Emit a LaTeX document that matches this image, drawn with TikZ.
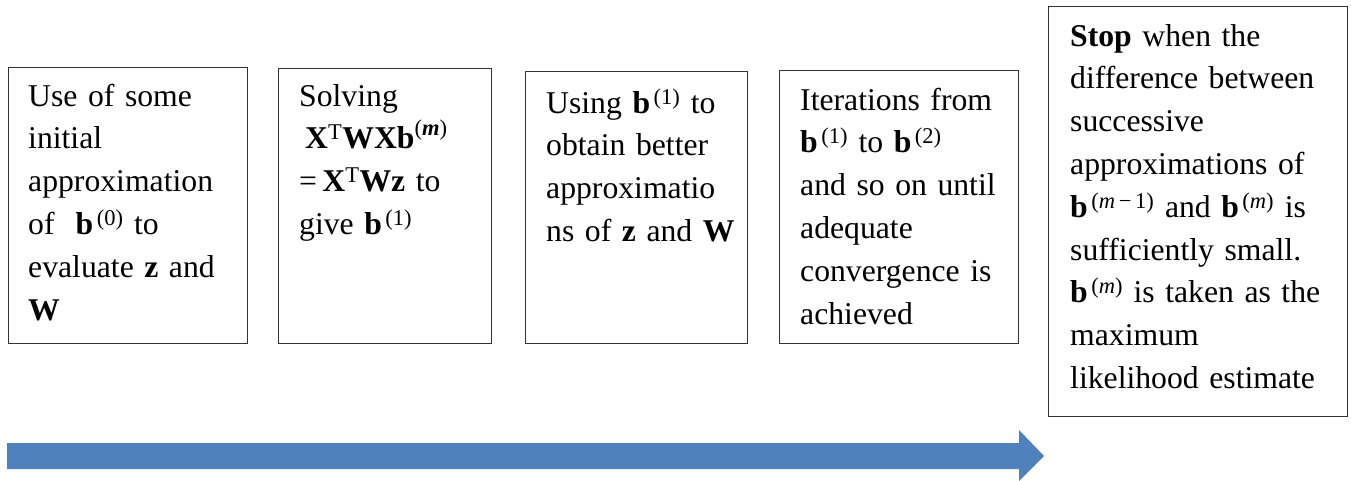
\documentclass[tikz,border=0pt]{standalone}
\usepackage{amsmath}
\usepackage{fontspec}
\setmainfont{Liberation Serif}
\DeclareMathSizes{31.7}{31.7}{22.5}{17}
\definecolor{arrowblue}{HTML}{4F81BD}
\definecolor{boxline}{HTML}{333333}
\tikzset{
  stepbox/.style={draw=boxline, line width=1.2pt, anchor=north west, inner sep=0pt, fill=white},
  txt/.style={anchor=north west, inner sep=0pt, text width=300pt, align=left,
    font=\fontsize{31.7}{42.8}\selectfont},
}
\newcommand{\firstline}{\rule{0pt}{36pt}}
\newcommand{\bb}[1]{\mathbf{b}^{\,\text{(#1)}}}
\newcommand{\mm}{\textit{m}}
\begin{document}
\begin{tikzpicture}[x=1pt,y=-1pt]
\useasboundingbox (0,0) rectangle (1351,481);
% boxes
\node[stepbox, minimum width=239pt, minimum height=276pt] (b1) at (8,67) {};
\node[stepbox, minimum width=213pt, minimum height=275pt] (b2) at (278,68) {};
\node[stepbox, minimum width=222pt, minimum height=272pt] (b3) at (525,71) {};
\node[stepbox, minimum width=239pt, minimum height=273pt] (b4) at (779,70) {};
\node[stepbox, minimum width=299pt, minimum height=410pt] (b5) at (1048,6) {};
% texts (top = first baseline - 36)
\node[txt] (t1) at (28,70) {\firstline Use of some\\ initial\\ approximation\\ of\ \ $\bb{0}$ to\\ evaluate $\mathbf{z}$ and\\ $\mathbf{W}$};
\node[txt] (t2) at (299,70) {\firstline Solving\\ \hspace*{6pt}$\mathbf{X}^{\text{T}}\mathbf{WXb}^{\text{(\textbf{\textit{m}})}}$\\ =\,$\mathbf{X}^{\text{T}}\mathbf{Wz}$ to\\ give $\bb{1}$};
\node[txt] (t3) at (546,77) {\firstline Using $\bb{1}$ to\\ obtain better\\ approximatio\\ ns of $\mathbf{z}$ and $\mathbf{W}$};
\node[txt] (t4) at (800,74) {\firstline Iterations from\\ $\bb{1}$ to $\bb{2}$\\ and so on until\\ adequate\\ convergence is\\ achieved};
\node[txt] (t5) at (1070,10) {\firstline \textbf{Stop} when the\\ difference between\\ successive\\ approximations of\\ $\bb{\mm\,−\,1}$ and $\bb{\mm}$ is\\ sufficiently small.\\ $\bb{\mm}$ is taken as the\\ maximum\\ likelihood estimate};
% timeline arrow
\fill[arrowblue] (7,443) -- (1019,443) -- (1019,430) -- (1044,456) -- (1019,481) -- (1019,469) -- (7,469) -- cycle;
\end{tikzpicture}
\end{document}
